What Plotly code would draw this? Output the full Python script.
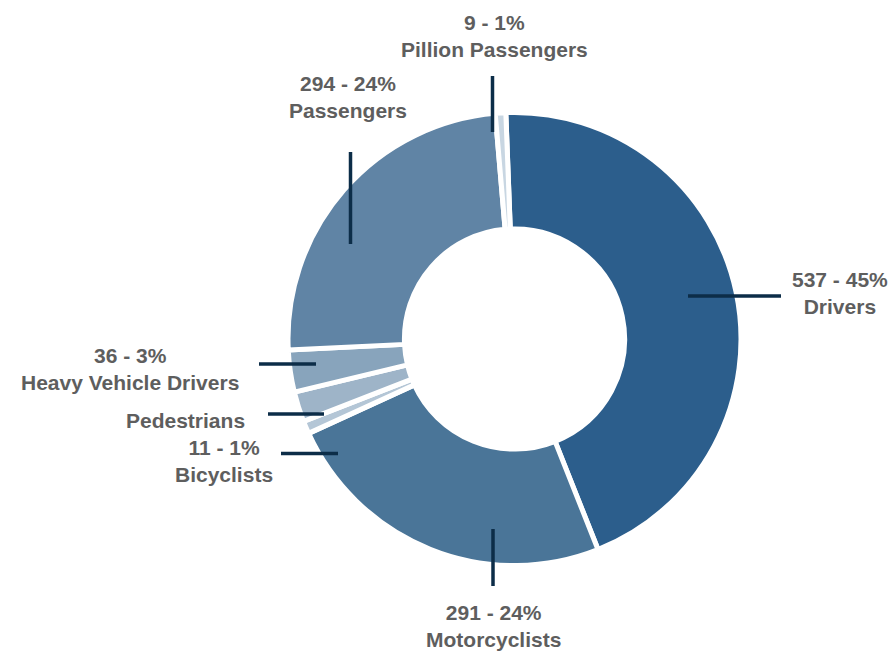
import plotly.graph_objects as go

# Road-user categories and fatality counts
categories = ["Drivers", "Motorcyclists", "Bicyclists", "Pedestrians",
              "Heavy Vehicle Drivers", "Passengers", "Pillion Passengers"]
counts = [537, 291, 11, 26, 36, 294, 9]
show_count = [True, True, True, False, True, True, True]

colors = ["#2C5E8C", "#4A7598", "#B4C6D6", "#9EB4C8",
          "#88A4BC", "#6084A5", "#C8D6E2"]

W, H = 890, 653
total = sum(counts)

# label text builder
labels_text = []
for name, v, show in zip(categories, counts, show_count):
    if show:
        labels_text.append(f"{v} - {round(v / total * 100)}%<br>{name}")
    else:
        labels_text.append(name)

# label anchor points (pixels) and leader-line segments (pixels)
label_pos = [(840, 293), (493, 626), (224, 461), (185, 420),
             (130, 369), (348, 97), (494, 36)]
leader = [((688, 296), (781, 296)),
          ((493, 529), (493, 586)),
          ((281, 453.5), (338, 453.5)),
          ((268, 414), (324, 414)),
          ((259, 364), (316, 364)),
          ((350.5, 152), (350.5, 244)),
          ((492.5, 76), (492.5, 132))]

cx, cy, r = 514.5, 339, 226.5

fig = go.Figure(go.Pie(
    labels=categories,
    values=counts,
    sort=False,
    direction="clockwise",
    rotation=-2.2,
    hole=0.486,
    textinfo="none",
    hoverinfo="label+value+percent",
    marker=dict(colors=colors, line=dict(color="white", width=5)),
    domain=dict(x=[(cx - r) / W, (cx + r) / W],
                y=[(H - cy - r) / H, (H - cy + r) / H]),
    showlegend=False,
))

for txt, (px, py) in zip(labels_text, label_pos):
    fig.add_annotation(
        x=px / W, y=1 - py / H, xref="paper", yref="paper",
        text=txt, showarrow=False, xanchor="center", yanchor="middle",
        align="center",
        font=dict(family="Liberation Sans, Arial, sans-serif", size=21,
                  color="#5E5E5E", weight="bold"),
    )

for (x0, y0), (x1, y1) in leader:
    fig.add_shape(type="line", xref="paper", yref="paper",
                  x0=x0 / W, y0=1 - y0 / H, x1=x1 / W, y1=1 - y1 / H,
                  line=dict(color="#0C2D48", width=3.5))

fig.update_layout(
    width=W, height=H,
    margin=dict(l=0, r=0, t=0, b=0),
    paper_bgcolor="white",
    plot_bgcolor="white",
)

fig.write_html("out.html")
